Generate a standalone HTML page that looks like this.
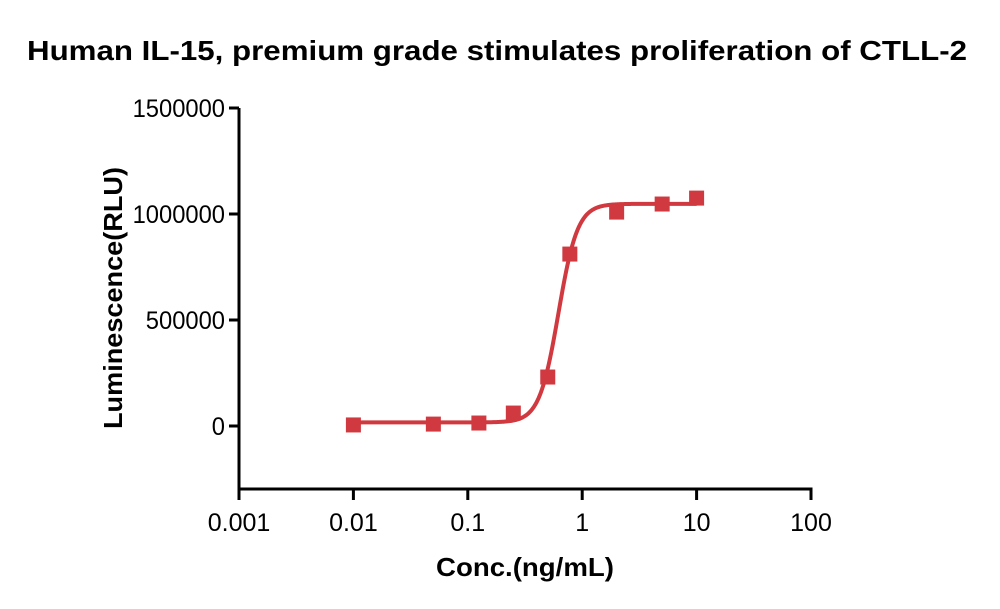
<!DOCTYPE html>
<html><head><meta charset="utf-8"><style>
html,body{margin:0;padding:0;background:#fff;}
svg{display:block;font-family:"Liberation Sans",sans-serif;}
</style></head><body>
<svg id="chart" width="1000" height="609" viewBox="0 0 1000 609">
<text x="497" y="60" text-anchor="middle" font-size="28" font-weight="bold" textLength="940" lengthAdjust="spacingAndGlyphs">Human IL-15, premium grade stimulates proliferation of CTLL-2</text>
<text transform="translate(122,298) rotate(-90)" text-anchor="middle" font-size="26" font-weight="bold" textLength="262" lengthAdjust="spacingAndGlyphs">Luminescence(RLU)</text>
<text x="525" y="576" text-anchor="middle" font-size="26" font-weight="bold" textLength="178" lengthAdjust="spacingAndGlyphs">Conc.(ng/mL)</text>
<g id="axes"></g>
<g id="marks"></g>
</svg>
<script>
const xTicks=[0.001,0.01,0.1,1,10,100];
const xTickLabels=["0.001","0.01","0.1","1","10","100"];
const yTicks=[0,500000,1000000,1500000];
const yTickLabels=["0","500000","1000000","1500000"];
const conc=[0.01,0.05,0.125,0.25,0.5,0.78,2,5,10];
const rlu=[5000,9000,14000,61000,231000,811000,1009000,1047000,1075000];
const fitBottom=[17000];
const fitTop=[1048000];
const fitEC50=[0.62];
const fitHill=[5.2];

const NS="http://www.w3.org/2000/svg";
const X0=239,X1=811,Y0=489,Yzero=426,pxPer=212/1000000;
function xs(v){return X0+(Math.log10(v)-Math.log10(0.001))/5*(X1-X0);}
function ys(v){return Yzero-v*pxPer;}
function mk(tag,attrs,parent){const e=document.createElementNS(NS,tag);for(const k in attrs)e.setAttribute(k,attrs[k]);parent.appendChild(e);return e;}
const axes=document.getElementById('axes'),marks=document.getElementById('marks');
let e;
e=mk('line',{x1:X0,y1:ys(1500000),x2:X0,y2:Y0+1.5,stroke:'#000','stroke-width':3},axes);


e=mk('line',{x1:X0-1.5,y1:Y0,x2:X1+1.5,y2:Y0,stroke:'#000','stroke-width':3},axes);


yTicks.forEach((t,i)=>{
 const y=ys(t);
 e=mk('line',{x1:X0-10,y1:y,x2:X0,y2:y,stroke:'#000','stroke-width':3},axes);
 
 
 const lab=yTickLabels[i];
 e=mk('text',{x:X0-14,y:y+9,'text-anchor':'end','font-size':25,textLength:lab.length*13.2,lengthAdjust:'spacingAndGlyphs'},axes);
 e.textContent=lab;
 
 
});
xTicks.forEach((t,i)=>{
 const x=xs(t);
 e=mk('line',{x1:x,y1:Y0,x2:x,y2:Y0+11,stroke:'#000','stroke-width':3},axes);
 
 
 e=mk('text',{x:x,y:Y0+42,'text-anchor':'middle','font-size':25},axes);
 e.textContent=xTickLabels[i];
 
 
});
let d='';
for(let i=0;i<=300;i++){
 const lx=Math.log10(conc[0])+(Math.log10(conc[conc.length-1])-Math.log10(conc[0]))*i/300;
 const c=Math.pow(10,lx);
 const v=fitBottom[0]+(fitTop[0]-fitBottom[0])/(1+Math.pow(fitEC50[0]/c,fitHill[0]));
 d+=(i?'L':'M')+xs(c).toFixed(2)+','+ys(v).toFixed(2);
}
e=mk('path',{d:d,fill:'none',stroke:'#d0393f','stroke-width':4},marks);


conc.forEach((c,i)=>{
 e=mk('rect',{x:xs(c)-7.5,y:ys(rlu[i])-7.5,width:15,height:15,fill:'#d0393f'},marks);
 
 
});
</script>
</body></html>
